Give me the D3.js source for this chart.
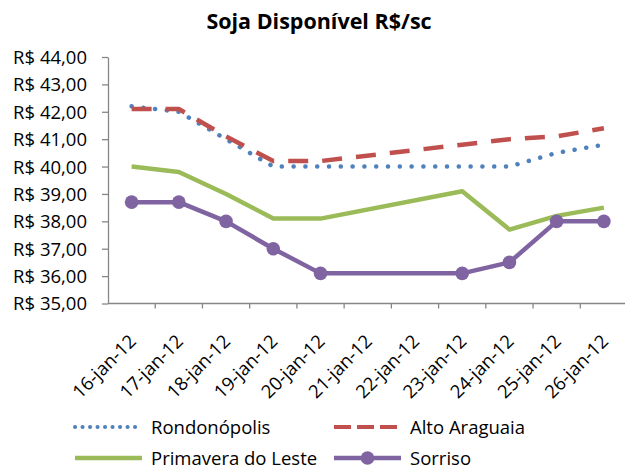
<!DOCTYPE html>
<html>
<head>
<meta charset="utf-8">
<script src="https://cdn.jsdelivr.net/npm/d3@7"></script>
<style>
  body { margin: 0; background: #fff; }
  text { font-family: "Open Sans", sans-serif; fill: #000; }
</style>
</head>
<body>
<div id="chart"></div>
<script>
// dates (21 and 22 are a weekend, no quotes)
const dates = ["16-jan-12", "17-jan-12", "18-jan-12", "19-jan-12", "20-jan-12", "21-jan-12",
               "22-jan-12", "23-jan-12", "24-jan-12", "25-jan-12", "26-jan-12"];
const rondonopolis = [42.2, 42.0, 41.0, 40.0, 40.0, null, null, 40.0, 40.0, 40.5, 40.8];
const altoAraguaia = [42.1, 42.1, 41.1, 40.2, 40.2, null, null, 40.8, 41.0, 41.1, 41.4];
const primavera    = [40.0, 39.8, 39.0, 38.1, 38.1, null, null, 39.1, 37.7, 38.2, 38.5];
const sorriso      = [38.7, 38.7, 38.0, 37.0, 36.1, null, null, 36.1, 36.5, 38.0, 38.0];
const yTicks = [35, 36, 37, 38, 39, 40, 41, 42, 43, 44];

const series = [
  { name: "Rondonópolis", values: rondonopolis, color: "#4F81BD", dash: "0.1,11.7", cap: "round", width: 4.5, marker: false },
  { name: "Alto Araguaia", values: altoAraguaia, color: "#C0504D", dash: "20,14", cap: "butt", width: 4.5, marker: false },
  { name: "Primavera do Leste", values: primavera, color: "#9BBB59", dash: null, cap: "butt", width: 4.5, marker: false },
  { name: "Sorriso", values: sorriso, color: "#8064A2", dash: null, cap: "butt", width: 4.5, marker: true }
];

const width = 625, height = 468;
const svg = d3.select("#chart").append("svg")
  .attr("width", width)
  .attr("height", height);

// title
svg.append("text")
  .attr("x", 319)
  .attr("y", 29)
  .attr("text-anchor", "middle")
  .style("font-size", "21.5px")
  .style("font-weight", "bold")
  .text("Soja Disponível R$/sc");

const x = d3.scaleBand()
  .domain(dates)
  .range([108, 627.5])
  .padding(0);

const y = d3.scaleLinear()
  .domain([35, 44])
  .range([303.5, 57]);

const fmt = v => "R$ " + d3.format(".2f")(v).replace(".", ",");

// Y axis
const yAxis = svg.append("g")
  .attr("transform", "translate(108,0)")
  .call(d3.axisLeft(y).tickValues(yTicks).tickSize(6).tickPadding(15).tickFormat(fmt).tickSizeOuter(0));
yAxis.selectAll("line, path").attr("stroke", "#868686").attr("stroke-width", 1.3);
yAxis.selectAll("text").style("font-size", "18.5px").attr("dy", "0.35em").attr("fill", "#000");

// X axis: ticks between categories
const xAxis = svg.append("g")
  .attr("transform", "translate(0,303.5)");
xAxis.append("line")
  .attr("x1", 108).attr("x2", 627.5)
  .attr("stroke", "#868686").attr("stroke-width", 1.3);
xAxis.selectAll(".tick")
  .data(dates)
  .join("line")
  .attr("x1", d => x(d) + x.bandwidth()).attr("x2", d => x(d) + x.bandwidth())
  .attr("y1", 0).attr("y2", 5)
  .attr("stroke", "#868686").attr("stroke-width", 1.3);
xAxis.selectAll(".lbl")
  .data(dates)
  .join("text")
  .attr("text-anchor", "end")
  .attr("transform", d => `translate(${x(d) + x.bandwidth() / 2 + 5.5},39) rotate(-45)`)
  .style("font-size", "18.5px")
  .text(d => d);

const cx = d => x(d) + x.bandwidth() / 2;

// lines (Excel connects across the empty weekend days)
series.forEach(s => {
  const pts = dates.map((d, i) => ({ d, v: s.values[i] })).filter(p => p.v != null);
  const line = d3.line().x(p => cx(p.d)).y(p => y(p.v));
  svg.append("path")
    .datum(pts)
    .attr("d", line)
    .attr("fill", "none")
    .attr("stroke", s.color)
    .attr("stroke-width", s.width)
    .attr("stroke-linejoin", "round")
    .attr("stroke-linecap", s.cap)
    .attr("stroke-dasharray", s.dash);
  if (s.marker) {
    svg.append("g").selectAll("circle")
      .data(pts)
      .join("circle")
      .attr("cx", p => cx(p.d))
      .attr("cy", p => y(p.v))
      .attr("r", 6.8)
      .attr("fill", s.color);
  }
});

// legend
const legendPos = [
  { x: 75, y: 427 }, { x: 334, y: 427 },
  { x: 75, y: 458 }, { x: 334, y: 458 }
];
series.forEach((s, i) => {
  const p = legendPos[i];
  const g = svg.append("g").attr("transform", `translate(${p.x},${p.y})`);
  g.append("line")
    .attr("x1", 0).attr("x2", 67)
    .attr("stroke", s.color)
    .attr("stroke-width", s.dash ? 4 : 4.5)
    .attr("stroke-linecap", s.cap)
    .attr("stroke-dasharray", s.dash === "20,14" ? "17,6" : (s.dash ? "0.1,7.4" : null));
  if (s.marker) {
    g.append("circle").attr("cx", 33.5).attr("cy", 0).attr("r", 6.8).attr("fill", s.color);
  }
  g.append("text")
    .attr("x", 76)
    .attr("y", 6.5)
    .style("font-size", "18.5px")
    .text(s.name);
});
</script>
</body>
</html>
